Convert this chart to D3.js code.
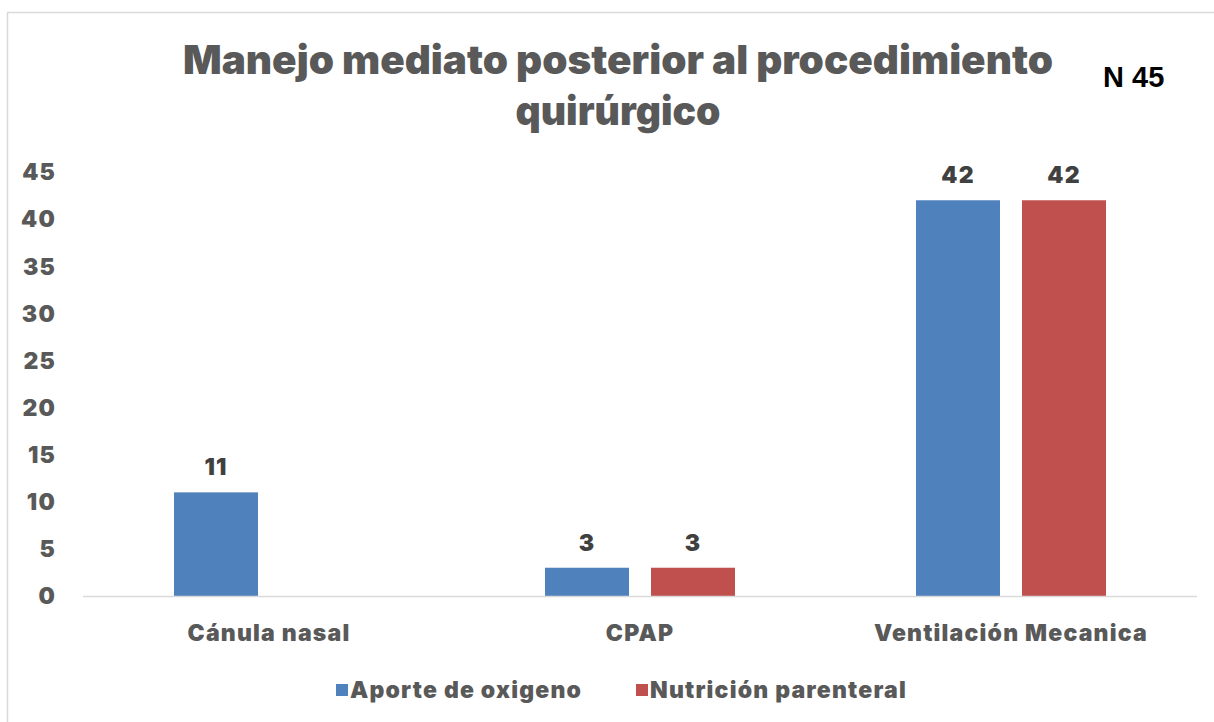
<!DOCTYPE html>
<html>
<head>
<meta charset="utf-8">
<script src="https://cdn.jsdelivr.net/npm/d3@7"></script>
<style>
  body { margin: 0; background: #fff; }
  text { font-family: "Arial Black", "Inter", "Roboto", sans-serif; font-weight: 900; }
</style>
</head>
<body>
<div id="chart"></div>
<script>
// data
const categories = ["Cánula nasal", "CPAP", "Ventilación Mecanica"];
const seriesNames = ["Aporte de oxigeno", "Nutrición parenteral"];
const oxigeno = [11, 3, 42];
const nutricion = [0, 3, 42];
const yTicks = [0, 5, 10, 15, 20, 25, 30, 35, 40, 45];
const colors = ["#4F81BD", "#C0504D"];

const width = 1214, height = 722;

const svg = d3.select("#chart").append("svg")
  .attr("width", width)
  .attr("height", height);

// chart border
svg.append("rect")
  .attr("x", 7.5).attr("y", 12.5)
  .attr("width", width).attr("height", height)
  .attr("fill", "none")
  .attr("stroke", "#d9d9d9")
  .attr("stroke-width", 1.5);

// title
const title = svg.append("text")
  .attr("text-anchor", "middle")
  .attr("fill", "#595959")
  .style("font-size", "40px");
title.append("tspan").attr("x", 618).attr("y", 74)
  .attr("textLength", 870).attr("lengthAdjust", "spacingAndGlyphs")
  .text("Manejo mediato posterior al procedimiento");
title.append("tspan").attr("x", 618).attr("y", 125)
  .attr("textLength", 205).attr("lengthAdjust", "spacingAndGlyphs")
  .text("quirúrgico");

svg.append("text")
  .attr("x", 1103).attr("y", 87)
  .attr("fill", "#000")
  .style("font-family", "'Liberation Sans', Arial, sans-serif")
  .style("font-weight", "bold")
  .style("font-size", "29px")
  .text("N 45");

const x = d3.scaleBand().domain(categories).range([83.5, 1196.5]);
const x1 = d3.scaleBand().domain(seriesNames).range([90.5, 280.5]).paddingInner(22 / 106);
const y = d3.scaleLinear().domain([0, 45]).range([596, 172]);

const labelStyle = sel => sel
  .style("font-size", "23px")
  .style("letter-spacing", "1.2px");

// y tick labels
svg.append("g").selectAll("text")
  .data(yTicks)
  .join("text")
  .attr("x", 56)
  .attr("y", d => y(d))
  .attr("dy", "0.36em")
  .attr("text-anchor", "end")
  .attr("fill", "#595959")
  .call(labelStyle)
  .text(d => d);

// bars
const rows = categories.map((c, i) => ({ cat: c, vals: [oxigeno[i], nutricion[i]] }));
const groups = svg.append("g").selectAll("g")
  .data(rows)
  .join("g")
  .attr("transform", d => `translate(${x(d.cat)},0)`);

groups.selectAll("rect")
  .data(d => d.vals.map((v, j) => ({ v, s: seriesNames[j], j })))
  .join("rect")
  .attr("x", d => x1(d.s))
  .attr("y", d => y(d.v))
  .attr("width", x1.bandwidth())
  .attr("height", d => y(0) - y(d.v))
  .attr("fill", d => colors[d.j]);

groups.selectAll("text.lbl")
  .data(d => d.vals.map((v, j) => ({ v, s: seriesNames[j], j })).filter(d => d.v > 0))
  .join("text")
  .attr("class", "lbl")
  .attr("x", d => x1(d.s) + x1.bandwidth() / 2)
  .attr("y", d => y(d.v) - 17)
  .attr("text-anchor", "middle")
  .attr("fill", "#404040")
  .call(labelStyle)
  .text(d => d.v);

// baseline
svg.append("line")
  .attr("x1", 83).attr("x2", 1197)
  .attr("y1", y(0) + 0.5).attr("y2", y(0) + 0.5)
  .attr("stroke", "#d9d9d9")
  .attr("stroke-width", 1.5);

// category labels
svg.append("g").selectAll("text")
  .data(categories)
  .join("text")
  .attr("x", d => x(d) + x.bandwidth() / 2)
  .attr("y", 641)
  .attr("text-anchor", "middle")
  .attr("fill", "#595959")
  .call(labelStyle)
  .text(d => d);

// legend
const legendX = [336, 636];
const leg = svg.append("g").selectAll("g")
  .data(seriesNames)
  .join("g")
  .attr("transform", (d, i) => `translate(${legendX[i]},690)`);
leg.append("rect")
  .attr("x", 0).attr("y", -6)
  .attr("width", 12).attr("height", 12)
  .attr("fill", (d, i) => colors[i]);
leg.append("text")
  .attr("x", 14).attr("y", 0)
  .attr("dy", "0.36em")
  .attr("fill", "#595959")
  .call(labelStyle)
  .text(d => d);
</script>
</body>
</html>
